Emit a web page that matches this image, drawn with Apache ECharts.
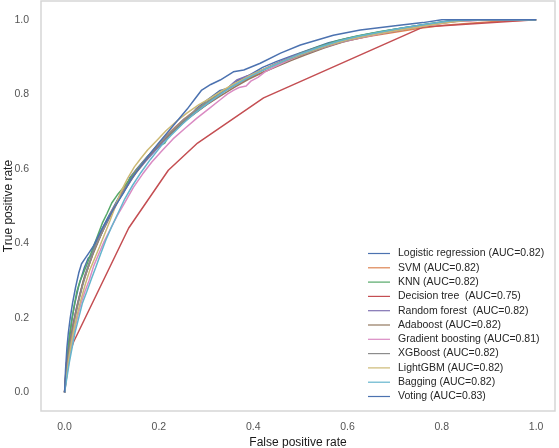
<!DOCTYPE html>
<html>
<head>
<meta charset="utf-8">
<script src="https://cdn.jsdelivr.net/npm/echarts@6/dist/echarts.min.js"></script>
<style>
  html, body { margin: 0; padding: 0; background: #fff; }
  #chart { width: 559px; height: 448px; }
</style>
</head>
<body>
<div id="chart"></div>
<script>
// tick labels for both axes
var tickValues = [0, 0.2, 0.4, 0.6, 0.8, 1.0];

// legend names, same order as the curves below
var modelNames = [
  "Logistic regression (AUC=0.82)",
  "SVM (AUC=0.82)",
  "KNN (AUC=0.82)",
  "Decision tree  (AUC=0.75)",
  "Random forest  (AUC=0.82)",
  "Adaboost (AUC=0.82)",
  "Gradient boosting (AUC=0.81)",
  "XGBoost (AUC=0.82)",
  "LightGBM (AUC=0.82)",
  "Bagging (AUC=0.82)",
  "Voting (AUC=0.83)"
];

// seaborn "deep" palette
var modelColors = ["#4C72B0", "#DD8452", "#55A868", "#C44E52", "#8172B3", "#937860",
  "#DA8BC3", "#8C8C8C", "#CCB974", "#64B5CD", "#4C72B0"];

// ROC points [fpr, tpr]
var rocLR = [[0,0],[0.003,0.05],[0.006,0.1],[0.011,0.15],[0.016,0.2],[0.022,0.24],[0.03,0.285],[0.036,0.31],[0.042,0.335],[0.05,0.36],[0.058,0.37],[0.066,0.4],[0.078,0.435],[0.09,0.465],[0.105,0.5],[0.12,0.535],[0.13,0.548],[0.138,0.575],[0.152,0.598],[0.17,0.625],[0.19,0.652],[0.2,0.658],[0.21,0.68],[0.232,0.708],[0.255,0.735],[0.265,0.74],[0.28,0.762],[0.305,0.787],[0.33,0.81],[0.345,0.815],[0.36,0.832],[0.39,0.85],[0.42,0.872],[0.45,0.888],[0.48,0.902],[0.52,0.92],[0.56,0.938],[0.6,0.95],[0.65,0.963],[0.7,0.974],[0.75,0.984],[0.8,0.994],[0.84,1],[1,1]];
var rocSVM = [[0,0],[0.004,0.04],[0.008,0.09],[0.012,0.13],[0.018,0.18],[0.024,0.22],[0.03,0.25],[0.038,0.29],[0.046,0.32],[0.054,0.35],[0.062,0.38],[0.072,0.41],[0.085,0.445],[0.1,0.485],[0.115,0.52],[0.13,0.555],[0.148,0.59],[0.168,0.62],[0.19,0.652],[0.212,0.685],[0.235,0.712],[0.26,0.74],[0.285,0.764],[0.31,0.785],[0.34,0.808],[0.37,0.83],[0.4,0.848],[0.43,0.864],[0.46,0.882],[0.49,0.898],[0.52,0.912],[0.56,0.93],[0.6,0.944],[0.65,0.956],[0.7,0.966],[0.75,0.976],[0.8,0.984],[0.86,0.99],[0.92,0.996],[1,1]];
var rocKNN = [[0,0],[0.003,0.06],[0.006,0.1],[0.01,0.15],[0.015,0.19],[0.02,0.23],[0.026,0.27],[0.033,0.3],[0.04,0.32],[0.048,0.345],[0.055,0.37],[0.061,0.39],[0.07,0.42],[0.08,0.454],[0.09,0.48],[0.1,0.508],[0.112,0.53],[0.125,0.55],[0.14,0.575],[0.158,0.605],[0.178,0.635],[0.2,0.662],[0.212,0.668],[0.222,0.69],[0.245,0.718],[0.27,0.745],[0.295,0.772],[0.32,0.795],[0.35,0.818],[0.38,0.84],[0.41,0.86],[0.44,0.876],[0.47,0.893],[0.5,0.91],[0.54,0.928],[0.58,0.944],[0.62,0.956],[0.67,0.968],[0.72,0.978],[0.77,0.988],[0.82,0.997],[0.88,1],[1,1]];
var rocDT = [[0,0],[0.004,0.08],[0.019,0.135],[0.136,0.441],[0.22,0.596],[0.282,0.669],[0.422,0.79],[0.76,0.98],[1,1]];
var rocRF = [[0,0],[0.004,0.05],[0.008,0.1],[0.013,0.14],[0.019,0.19],[0.026,0.23],[0.034,0.27],[0.042,0.31],[0.05,0.34],[0.06,0.375],[0.072,0.41],[0.086,0.445],[0.1,0.48],[0.116,0.52],[0.134,0.555],[0.152,0.59],[0.172,0.62],[0.195,0.652],[0.218,0.685],[0.242,0.712],[0.266,0.74],[0.29,0.762],[0.315,0.784],[0.34,0.81],[0.365,0.838],[0.39,0.85],[0.42,0.866],[0.45,0.884],[0.48,0.9],[0.52,0.918],[0.56,0.934],[0.6,0.948],[0.65,0.96],[0.7,0.972],[0.75,0.982],[0.8,0.992],[0.85,0.998],[0.9,1],[1,1]];
var rocAda = [[0,0],[0.003,0.05],[0.007,0.09],[0.012,0.14],[0.018,0.18],[0.025,0.22],[0.032,0.26],[0.04,0.3],[0.05,0.335],[0.06,0.37],[0.07,0.4],[0.083,0.44],[0.097,0.475],[0.112,0.51],[0.128,0.545],[0.146,0.58],[0.165,0.612],[0.186,0.645],[0.208,0.675],[0.23,0.7],[0.255,0.728],[0.28,0.752],[0.305,0.775],[0.33,0.795],[0.36,0.818],[0.39,0.84],[0.42,0.858],[0.45,0.874],[0.48,0.89],[0.51,0.905],[0.55,0.924],[0.59,0.94],[0.64,0.955],[0.69,0.967],[0.74,0.978],[0.79,0.988],[0.83,0.996],[0.9,1],[1,1]];
var rocGB = [[0,0],[0.004,0.04],[0.009,0.08],[0.014,0.12],[0.02,0.16],[0.027,0.2],[0.035,0.24],[0.043,0.27],[0.052,0.3],[0.062,0.34],[0.072,0.37],[0.084,0.405],[0.098,0.44],[0.112,0.475],[0.128,0.51],[0.146,0.55],[0.165,0.585],[0.185,0.618],[0.208,0.65],[0.23,0.68],[0.255,0.708],[0.28,0.735],[0.305,0.76],[0.33,0.785],[0.345,0.8],[0.358,0.81],[0.37,0.818],[0.385,0.822],[0.395,0.835],[0.41,0.845],[0.425,0.86],[0.443,0.872],[0.47,0.888],[0.5,0.904],[0.54,0.922],[0.58,0.938],[0.63,0.952],[0.68,0.965],[0.73,0.976],[0.78,0.986],[0.83,0.995],[0.9,1],[1,1]];
var rocXGB = [[0,0],[0.004,0.05],[0.008,0.09],[0.012,0.13],[0.018,0.17],[0.024,0.21],[0.031,0.25],[0.038,0.285],[0.046,0.32],[0.055,0.355],[0.065,0.39],[0.076,0.42],[0.089,0.455],[0.103,0.49],[0.118,0.525],[0.135,0.56],[0.153,0.595],[0.173,0.628],[0.195,0.66],[0.218,0.69],[0.242,0.718],[0.266,0.745],[0.29,0.768],[0.316,0.79],[0.343,0.812],[0.372,0.834],[0.4,0.852],[0.43,0.87],[0.46,0.886],[0.49,0.9],[0.53,0.918],[0.57,0.935],[0.61,0.948],[0.66,0.962],[0.71,0.973],[0.76,0.983],[0.81,0.993],[0.86,1],[1,1]];
var rocLGBM = [[0,0],[0.004,0.04],[0.009,0.09],[0.014,0.13],[0.02,0.17],[0.027,0.21],[0.035,0.25],[0.044,0.29],[0.054,0.33],[0.064,0.36],[0.074,0.39],[0.085,0.425],[0.096,0.46],[0.108,0.5],[0.12,0.54],[0.134,0.575],[0.148,0.605],[0.162,0.628],[0.176,0.65],[0.195,0.675],[0.215,0.702],[0.238,0.728],[0.26,0.75],[0.285,0.772],[0.31,0.79],[0.335,0.81],[0.36,0.828],[0.39,0.848],[0.42,0.866],[0.45,0.882],[0.48,0.897],[0.52,0.915],[0.56,0.932],[0.6,0.946],[0.65,0.959],[0.7,0.97],[0.75,0.98],[0.8,0.99],[0.85,0.998],[0.9,1],[1,1]];
var rocBag = [[0,0],[0.005,0.04],[0.01,0.08],[0.016,0.12],[0.022,0.16],[0.03,0.2],[0.038,0.24],[0.047,0.27],[0.057,0.305],[0.066,0.335],[0.076,0.37],[0.088,0.41],[0.1,0.445],[0.113,0.48],[0.128,0.52],[0.144,0.555],[0.162,0.59],[0.182,0.625],[0.204,0.66],[0.226,0.69],[0.25,0.72],[0.275,0.748],[0.3,0.772],[0.325,0.795],[0.352,0.818],[0.38,0.838],[0.41,0.858],[0.44,0.875],[0.47,0.892],[0.5,0.908],[0.54,0.926],[0.58,0.942],[0.62,0.955],[0.67,0.967],[0.72,0.978],[0.77,0.988],[0.82,0.997],[0.88,1],[1,1]];
var rocVoting = [[0,0],[0.002,0.06],[0.005,0.12],[0.008,0.16],[0.012,0.2],[0.017,0.24],[0.023,0.28],[0.03,0.32],[0.036,0.345],[0.044,0.36],[0.052,0.375],[0.06,0.39],[0.07,0.415],[0.08,0.44],[0.094,0.47],[0.11,0.505],[0.125,0.535],[0.14,0.57],[0.16,0.605],[0.18,0.638],[0.2,0.67],[0.22,0.7],[0.24,0.73],[0.26,0.76],[0.275,0.785],[0.29,0.81],[0.31,0.826],[0.33,0.838],[0.358,0.86],[0.38,0.865],[0.415,0.883],[0.458,0.91],[0.5,0.932],[0.57,0.958],[0.627,0.972],[0.71,0.985],[0.76,0.992],[0.8,1],[1,1]];

var rocList = [rocLR, rocSVM, rocKNN, rocDT, rocRF, rocAda, rocGB, rocXGB, rocLGBM, rocBag, rocVoting];

var fontName = "Liberation Sans, Arial, sans-serif";

var myChart = echarts.init(document.getElementById("chart"), null, { renderer: "canvas" });

var series = [];
for (var i = 0; i < rocList.length; i++) {
  series.push({
    type: "line",
    name: modelNames[i],
    data: rocList[i],
    symbol: "none",
    color: modelColors[i],
    lineStyle: { width: 1.5, color: modelColors[i] },
    animation: false,
  });
}

// shared style for the value axes (no ticks, frame comes from grid)
function valueAxis(name, gap) {
  return {
    type: "value",
    name: name,
    nameLocation: "middle",
    nameGap: gap,
    nameMoveOverlap: false,
    nameTextStyle: { color: "#1a1a1a", fontSize: 12, fontFamily: fontName },
    min: -0.05,
    max: 1.05,
    axisLine: { show: false },
    axisTick: { show: false },
    splitLine: { show: false },
    axisLabel: {
      customValues: tickValues,
      color: "#555555",
      fontSize: 10.5,
      fontFamily: fontName,
      formatter: function (v) { return v.toFixed(1); },
    },
  };
}

var xAxis = valueAxis("False positive rate", 26);
xAxis.max = 1.04;
xAxis.axisLabel.margin = 11;
var yAxis = valueAxis("True positive rate", 26);
yAxis.axisLabel.margin = 12;

var option = {
  animation: false,
  backgroundColor: "#ffffff",
  grid: {
    show: true,
    left: 41,
    right: 4,
    top: 1,
    bottom: 37,
    outerBoundsMode: "none",
    containLabel: false,
    borderColor: "#d6d6d6",
    borderWidth: 1.5,
    backgroundColor: "#ffffff",
  },
  legend: {
    orient: "vertical",
    left: 368,
    top: 248,
    padding: 0,
    itemWidth: 22,
    itemHeight: 14,
    itemGap: 3.3,
    icon: "path://M0,6.4 L22,6.4 L22,7.6 L0,7.6 Z",
    textStyle: { color: "#262626", fontSize: 10.5, fontFamily: fontName, padding: [0, 0, 0, 3] },
    data: modelNames,
  },
  xAxis: xAxis,
  yAxis: yAxis,
  series: series,
};

myChart.setOption(option);
</script>
</body>
</html>
